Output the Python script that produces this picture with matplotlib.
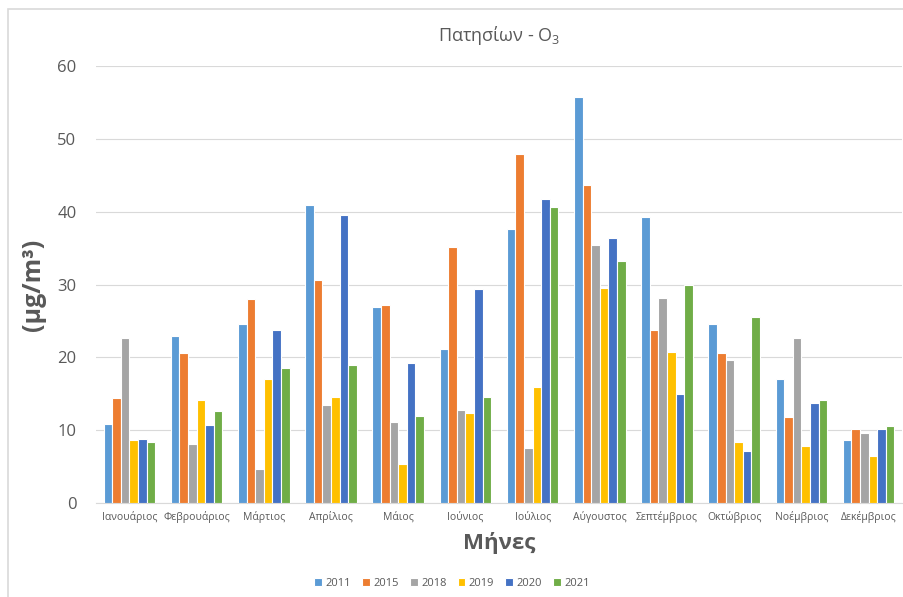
import numpy as np
import matplotlib
matplotlib.use("Agg")
import matplotlib.pyplot as plt
from matplotlib.patches import Rectangle

plt.rcParams['font.family'] = ['Open Sans', 'DejaVu Sans']
plt.rcParams['mathtext.fontset'] = 'custom'
plt.rcParams['mathtext.rm'] = 'Open Sans'
plt.rcParams['mathtext.bf'] = 'Open Sans:bold'

months = ['Ιανουάριος', 'Φεβρουάριος', 'Μάρτιος', 'Απρίλιος', 'Μάιος', 'Ιούνιος',
          'Ιούλιος', 'Αύγουστος', 'Σεπτέμβριος', 'Οκτώβριος', 'Νοέμβριος', 'Δεκέμβριος']
years = ['2011', '2015', '2018', '2019', '2020', '2021']

o3_2011 = [10.9, 22.9, 24.6, 41.0, 26.9, 21.2, 37.6, 55.8, 39.3, 24.6, 17.1, 8.6]
o3_2015 = [14.4, 20.6, 28.0, 30.7, 27.2, 35.1, 48.0, 43.7, 23.7, 20.6, 11.8, 10.2]
o3_2018 = [22.6, 8.1, 4.7, 13.4, 11.1, 12.8, 7.5, 35.5, 28.1, 19.6, 22.6, 9.6]
o3_2019 = [8.6, 14.2, 17.1, 14.6, 5.4, 12.3, 15.9, 29.6, 20.8, 8.4, 7.8, 6.4]
o3_2020 = [8.8, 10.7, 23.8, 39.5, 19.2, 29.4, 41.8, 36.4, 15.0, 7.1, 13.8, 10.1]
o3_2021 = [8.4, 12.6, 18.6, 18.9, 11.9, 14.5, 40.6, 33.3, 30.0, 25.6, 14.2, 10.6]

series = [o3_2011, o3_2015, o3_2018, o3_2019, o3_2020, o3_2021]
colors = ['#5B9BD5', '#ED7D31', '#A5A5A5', '#FFC000', '#4472C4', '#70AD47']

fig = plt.figure(figsize=(9.04, 5.97), dpi=100)
ax = fig.add_axes([0.106, 0.1575, 0.892, 0.7315])

x = np.arange(len(months))
w = 0.128
for i, (vals, c, yr) in enumerate(zip(series, colors, years)):
    ax.bar(x + (i - 2.5) * w, vals, width=w, color=c, edgecolor='white',
           linewidth=0.8, label=yr, zorder=3)

ax.set_xlim(-0.5, len(months) - 0.5)
ax.set_ylim(0, 60)
ax.set_yticks(range(0, 61, 10))
ax.set_xticks(x)
ax.set_xticklabels(months, fontsize=7.5, color='#595959')
ax.tick_params(axis='y', labelsize=12, colors='#595959', length=0, pad=14)
ax.tick_params(axis='x', length=0, pad=6)
ax.grid(axis='y', color='#D9D9D9', linewidth=0.8, zorder=0)
for s in ['top', 'right', 'left']:
    ax.spines[s].set_visible(False)
ax.spines['bottom'].set_color('#D9D9D9')

ax.set_title('Πατησίων - O$_3$', fontsize=13, color='#595959', pad=18)
ax.set_xlabel('Μήνες', fontsize=16, fontweight='bold', color='#595959', labelpad=6)
ax.set_ylabel('(μg/m³)', fontsize=18, fontweight='bold', color='#595959', labelpad=8)

fig.legend(loc='center', bbox_to_anchor=(0.5, 1 - 583 / 597), ncol=6, frameon=False,
           fontsize=8, handlelength=0.7, handleheight=0.7, handletextpad=0.3,
           columnspacing=1.0, labelcolor='#595959')

# light chart frame (left and top edges visible)
fig.patches.append(Rectangle((8 / 904, -0.1), 1.2, 0.1 + (597 - 9) / 597,
                             transform=fig.transFigure, fill=False,
                             edgecolor='#D9D9D9', linewidth=1.2))

fig.savefig('out.png', dpi=100)
